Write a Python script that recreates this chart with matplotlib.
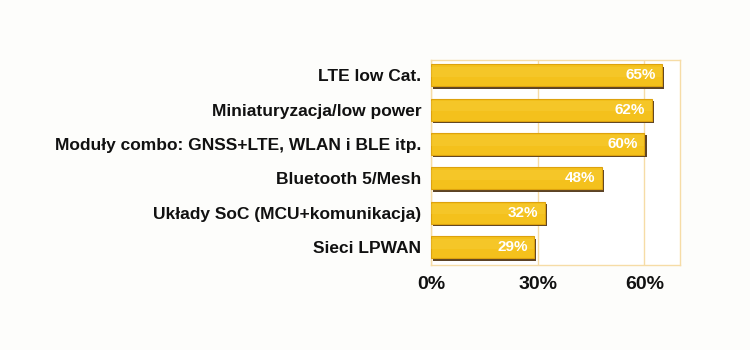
import matplotlib
matplotlib.use("Agg")
import matplotlib.pyplot as plt
import matplotlib.patheffects as pe

categories = ["LTE low Cat.", "Miniaturyzacja/low power",
              "Moduły combo: GNSS+LTE, WLAN i BLE itp.", "Bluetooth 5/Mesh",
              "Układy SoC (MCU+komunikacja)", "Sieci LPWAN"]
values = [65, 62, 60, 48, 32, 29]
xticks = [0, 30, 60]
xtick_labels = ["0%", "30%", "60%"]

plt.rcParams['font.family'] = ['Liberation Sans', 'DejaVu Sans']

fig = plt.figure(figsize=(7.5, 3.5), dpi=100)
fig.patch.set_facecolor('#FDFDFB')
ax = fig.add_axes([0.5747, 0.2429, 0.3320, 0.5857])
ax.set_facecolor('#FFFFFF')

n = len(categories)
ypos = [n - 1 - i for i in range(n)]
bars = ax.barh(ypos, values, height=0.64, color='#F4C11C', edgecolor='#DDA20E',
               linewidth=0.8, zorder=3)
for b in bars:
    b.set_path_effects([pe.SimplePatchShadow(offset=(1.5, -1.8), shadow_rgbFace='#5C4326', alpha=1.0),
                        pe.Normal()])
# subtle highlight on upper part
ax.barh([y + 0.1 for y in ypos], values, height=0.3, color='#F8D245',
        linewidth=0, zorder=3.5, alpha=0.3)

for y, v in zip(ypos, values):
    ax.text(v - 1.8, y, f"{v}%", ha='right', va='center', color='white',
            fontsize=11, fontweight='bold', zorder=5)

ax.set_xlim(0, 70)
ax.set_ylim(-0.52, n - 1 + 0.44)
ax.set_yticks(ypos)
ax.set_yticklabels(categories, fontsize=12.5, fontweight='bold', color='#111111')
ax.set_xticks(xticks)
ax.set_xticklabels(xtick_labels, fontsize=14, fontweight='bold', color='#111111')
ax.tick_params(length=0, pad=7)
ax.tick_params(axis='x', pad=8)
ax.grid(axis='x', color='#F6DCA6', linewidth=1, zorder=0)
for s in ax.spines.values():
    s.set_color('#F6DCA6')
    s.set_linewidth(1)

fig.savefig("out.png", dpi=100, facecolor=fig.get_facecolor())
